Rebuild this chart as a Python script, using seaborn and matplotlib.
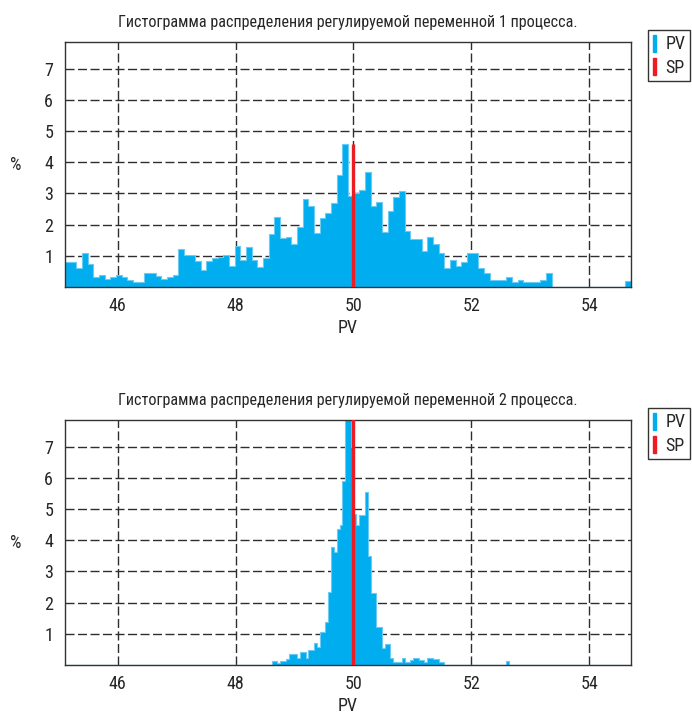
import numpy as np
import pandas as pd
import matplotlib
matplotlib.use("Agg")
import matplotlib.pyplot as plt
import seaborn as sns
from matplotlib.patches import Patch
from matplotlib.ticker import MultipleLocator, FixedLocator

sns.set_style("white")
plt.rcParams['font.family'] = ['Roboto Condensed', 'Liberation Sans Narrow',
                               'Liberation Sans', 'DejaVu Sans']

# x range of the data (both histograms share it)
x_min, x_max = 45.105, 54.71
sp_value = 50.0

titles = ["Гистограмма распределения регулируемой переменной 1 процесса.",
          "Гистограмма распределения регулируемой переменной 2 процесса."]

# process 1: 100 bins, % per bin
pv1_bins = 100
pv1_pct = [0.79, 0.79, 0.6, 1.08, 0.75, 0.31, 0.39, 0.25, 0.31, 0.39,
           0.31, 0.22, 0.15, 0.15, 0.44, 0.44, 0.35, 0.25, 0.32, 0.4,
           1.23, 1.02, 1.02, 0.83, 0.55, 0.83, 0.92, 0.95, 1.02, 0.66,
           1.32, 0.87, 1.27, 0.87, 0.63, 0.92, 1.71, 2.25, 1.56, 1.61,
           1.37, 1.93, 2.82, 2.59, 1.72, 2.2, 2.36, 2.69, 3.58, 4.59,
           2.93, 3.0, 3.1, 3.7, 2.59, 2.72, 1.77, 2.43, 2.87, 3.09,
           1.8, 1.55, 1.55, 1.16, 1.61, 1.37, 1.1, 0.6, 0.87, 0.68,
           0.79, 1.08, 1.08, 0.6, 0.44, 0.22, 0.22, 0.22, 0.31, 0.17,
           0.22, 0.17, 0.17, 0.17, 0.22, 0.44, 0, 0, 0, 0,
           0, 0, 0, 0, 0, 0, 0, 0, 0, 0.2]

# process 2: 200 bins, only bins from pv2_start on are listed
pv2_bins = 200
pv2_start = 73
pv2_pct = [0.13, 0.13, 0.05, 0.13, 0.13, 0.18, 0.35, 0.35, 0.35, 0.23,
           0.42, 0.42, 0.23, 0.48, 0.48, 0.72, 0.57, 1.07, 1.07, 1.39,
           2.34, 3.78, 3.61, 4.36, 4.47, 5.89, 9.5, 10.0, 7.0, 4.85,
           4.47, 4.82, 4.82, 5.54, 3.48, 2.32, 2.32, 1.21, 1.21, 0.53,
           0.66, 0.66, 0.21, 0.11, 0.11, 0.11, 0.21, 0.11, 0.11, 0.16,
           0.21, 0.21, 0.16, 0.16, 0.11, 0.21, 0.21, 0.18, 0.18, 0.11,
           0.11, 0, 0, 0, 0, 0, 0, 0, 0, 0,
           0, 0, 0, 0, 0, 0, 0, 0, 0, 0,
           0, 0, 0, 0.13]

PV_COLOR = '#00AEEF'
SP_COLOR = '#EC1C24'
FRAME = '#333333'
FS = 13
TITLE_FS = 11.6

fig = plt.figure(figsize=(6.92, 7.18), dpi=100)
W, H = 692, 718


def draw(ax, values, nbins, start, title, legend_top):
    edges = np.linspace(x_min, x_max, nbins + 1)
    centers = (edges[:-1] + edges[1:]) / 2
    df = pd.DataFrame({'pv': centers[start:start + len(values)], 'pct': values})
    sns.histplot(data=df, x='pv', weights='pct', bins=nbins,
                 binrange=(x_min, x_max), element='step',
                 fill=True, color=PV_COLOR, alpha=1, linewidth=0.8,
                 edgecolor='#6CCBF3', ax=ax, zorder=2)
    ax.vlines(sp_value, 0, max(values), color=SP_COLOR, lw=2.4, zorder=3)

    ax.set_xlim(x_min, x_max)
    ax.set_ylim(0, 7.85)
    ax.xaxis.set_major_locator(MultipleLocator(2))
    ax.xaxis.set_minor_locator(MultipleLocator(0.5))
    ax.yaxis.set_major_locator(FixedLocator([1, 2, 3, 4, 5, 6, 7]))
    ax.yaxis.set_minor_locator(MultipleLocator(0.25))
    ax.set_axisbelow(True)
    ax.grid(True, which='major', linestyle=(0, (6.5, 2.5)), color='#2e2e2e', lw=1.0)

    ax.tick_params(axis='y', which='major', direction='inout', length=9,
                   width=0.8, color=FRAME, labelsize=FS, pad=4)
    ax.tick_params(axis='y', which='minor', direction='out', length=3.5,
                   width=0.8, color=FRAME)
    ax.tick_params(axis='x', which='both', direction='out', length=4,
                   width=0.8, color=FRAME, labelsize=FS, pad=3)
    for s in ax.spines.values():
        s.set_color(FRAME)
        s.set_linewidth(1.0)

    ax.set_title(title, fontsize=TITLE_FS, pad=11)
    ax.set_xlabel('PV', fontsize=FS, labelpad=3)
    ax.set_ylabel('%', fontsize=FS, rotation=0)
    ax.yaxis.set_label_coords(-0.088, 0.46)

    handles = [Patch(color=PV_COLOR, label='PV'), Patch(color=SP_COLOR, label='SP')]
    ax.legend(handles=handles, loc='upper left',
              bbox_to_anchor=(648 / W, 1 - legend_top / H),
              bbox_transform=fig.transFigure, frameon=True, fancybox=False,
              edgecolor=FRAME, framealpha=1, handlelength=0.22, handleheight=1.1,
              handletextpad=0.5, borderpad=0.25, labelspacing=0.25,
              borderaxespad=0, fontsize=FS)


ax1 = fig.add_axes([65 / W, 1 - 287 / H, 566 / W, 245 / H])
ax2 = fig.add_axes([65 / W, 1 - 665 / H, 566 / W, 245 / H])

draw(ax1, pv1_pct, pv1_bins, 0, titles[0], 30)
draw(ax2, pv2_pct, pv2_bins, pv2_start, titles[1], 408)

fig.savefig('out.png', dpi=100)
